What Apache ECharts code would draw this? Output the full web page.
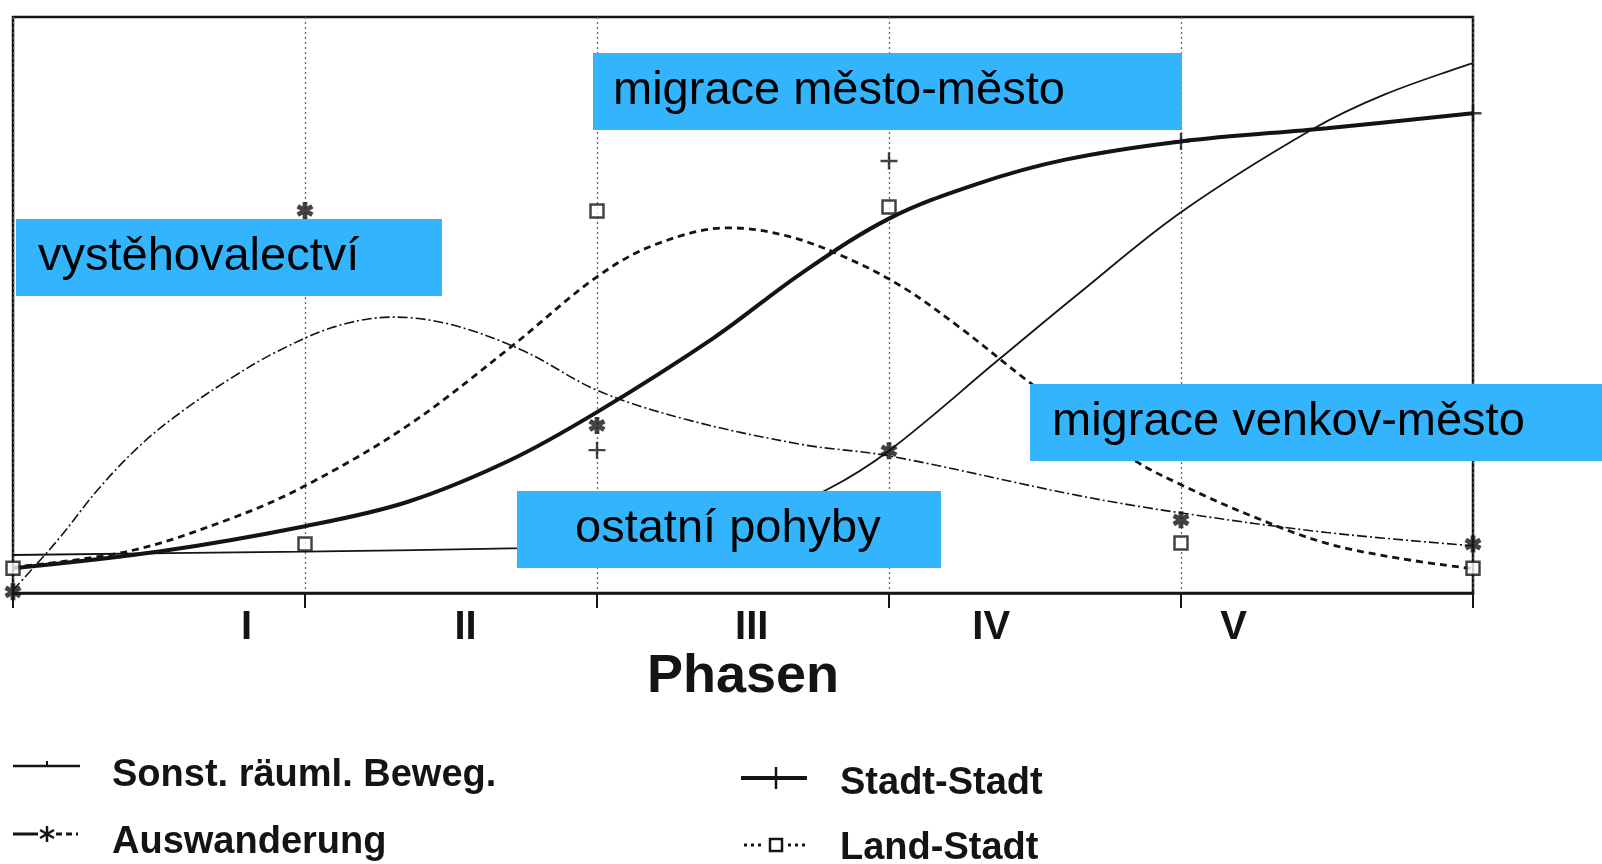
<!DOCTYPE html>
<html>
<head>
<meta charset="utf-8">
<title>Phasen</title>
<script src="https://cdn.jsdelivr.net/npm/echarts@6/dist/echarts.min.js"></script>
<style>
    html, body { margin: 0; padding: 0; background: #fff; }
    #chart { width: 1602px; height: 864px; }
</style>
</head>
<body>
<div id="chart"></div>
<script>
// phase axis: 0..5, one unit per phase
const phaseLabels = ['I', 'II', 'III', 'IV', 'V']
const phaseLabelPos = [0.8, 1.55, 2.53, 3.35, 4.18]

// curves, [phase, relative value]
const sonstValues = [[0, 6.6], [1, 7.2], [1.75, 7.8], [2.2, 8.6], [2.5, 11.5], [2.79, 18.0], [3, 24.7], [3.38, 40.7],
    [3.65, 52.0], [4, 66.1], [4.45, 80.5], [4.7, 86.6], [5, 92.0]]
const auswanderungValues = [[0, 0.5], [0.15, 9], [0.3, 18.5], [0.45, 26.3], [0.6, 32.3], [0.75, 37.4], [0.9, 41.8],
    [1.1, 46.2], [1.3, 47.9], [1.5, 46.6], [1.75, 42], [2, 35.2], [2.3, 30.2], [2.7, 25.8], [3, 23.8], [3.65, 16.9],
    [4, 13.9], [4.5, 10.5], [5, 8.2]]
const stadtStadtValues = [[0, 4.3], [0.5, 7.2], [1, 11.6], [1.35, 15.8], [1.7, 23], [2, 31.4], [2.4, 44.3], [2.7, 55.5],
    [3, 65], [3.3, 71], [3.6, 75.2], [4, 78.4], [4.5, 80.7], [5, 83.3]]
const landStadtValues = [[0, 4.5], [0.4, 7.3], [0.75, 13], [1, 18.6], [1.35, 29], [1.7, 42.5], [2, 54.9], [2.2, 60.5],
    [2.45, 63.4], [2.65, 62], [2.85, 58.3], [3.05, 53], [3.25, 45.8], [3.47, 37.0], [3.83, 23.4], [4, 18.8], [4.25, 13.2],
    [4.5, 8.6], [4.75, 6], [5, 4.2]]

// marker symbols at the phase boundaries
const auswanderungMarks = [[0, 0.2], [1, 66.4], [2, 29.1], [3, 24.7], [4, 12.7], [5, 8.5]]
const stadtStadtMarks = [[2, 24.8], [3, 75.0], [4, 78.4], [5, 83.3]]
const landStadtMarks = [[0, 4.3], [1, 8.5], [2, 66.3], [3, 67.0], [4, 8.7], [5, 4.3]]

const ink = '#141414'
const boxBlue = '#34b4fc'
// three bars, all wound the same way so the centre stays filled
const starPath = 'path://M-1.7,-6L1.7,-6L1.7,6L-1.7,6Z M4.346,4.472L-6.046,-1.528L-4.346,-4.472L6.046,1.528Z M-6.046,1.528L4.346,-4.472L6.046,-1.528L-4.346,4.472Z'
const plusPath = 'path://M-1,-7L1,-7L1,-1L7,-1L7,1L1,1L1,7L-1,7L-1,1L-7,1L-7,-1L-1,-1Z'

const boxFont = '47px "Liberation Sans", Arial, sans-serif'
const legendFont = 'bold 38px "Liberation Sans", Arial, sans-serif'

function box(x, y, w, h, text, tx) {
    return [
        { type: 'rect', z: 100, shape: { x: x, y: y, width: w, height: h }, style: { fill: boxBlue } },
        { type: 'text', z: 101, x: tx, y: y + h / 2, style: { text: text, font: boxFont, fill: '#000', verticalAlign: 'middle' } }
    ]
}

function legendText(x, y, text) {
    return { type: 'text', z: 50, x: x, y: y, style: { text: text, font: legendFont, fill: ink, verticalAlign: 'middle' } }
}

function seg(x1, y1, x2, y2, w, dash) {
    return { type: 'line', z: 50, shape: { x1: x1, y1: y1, x2: x2, y2: y2 }, style: { stroke: ink, lineWidth: w, lineDash: dash || null } }
}

function star(cx, cy, r) {
    const out = []
    for (let a = 0; a < 180; a += 60) {
        const rad = (a + 90) * Math.PI / 180
        out.push(seg(cx - r * Math.cos(rad), cy - r * Math.sin(rad), cx + r * Math.cos(rad), cy + r * Math.sin(rad), 2.5))
    }
    return out
}

const chart = echarts.init(document.getElementById('chart'))

chart.setOption({
    backgroundColor: '#ffffff',
    animation: false,
    grid: {
        left: 13,
        right: 129,
        top: 17,
        bottom: 271,
        show: true,
        borderColor: ink,
        borderWidth: 2.5,
        backgroundColor: 'transparent'
    },
    xAxis: [{
        type: 'value',
        min: 0,
        max: 5,
        interval: 1,
        axisLine: { show: true, lineStyle: { color: ink, width: 2.5 } },
        axisTick: { show: true, length: 15, lineStyle: { color: ink, width: 2 } },
        axisLabel: { show: false },
        splitLine: { show: true, lineStyle: { color: '#666', width: 1.3, type: [2, 3] } },
        name: 'Phasen',
        nameLocation: 'middle',
        nameGap: 57,
        nameTextStyle: { color: ink, fontSize: 54, fontWeight: 'bold', fontFamily: '"Liberation Sans", Arial, sans-serif' }
    }, {
        type: 'value',
        min: 0,
        max: 5,
        position: 'bottom',
        axisLine: { show: false },
        axisTick: { show: false },
        splitLine: { show: false },
        axisLabel: {
            show: true,
            customValues: phaseLabelPos,
            margin: 15,
            color: ink,
            fontSize: 40,
            fontWeight: 'bold',
            fontFamily: '"Liberation Sans", Arial, sans-serif',
            formatter: function (v) {
                let best = 0
                phaseLabelPos.forEach(function (p, i) {
                    if (Math.abs(p - v) < Math.abs(phaseLabelPos[best] - v)) best = i
                })
                return phaseLabels[best]
            }
        }
    }],
    yAxis: {
        type: 'value',
        min: 0,
        max: 100,
        show: false
    },
    series: [{
        name: 'Sonst. räuml. Beweg.',
        type: 'line',
        smooth: 0.35,
        showSymbol: false,
        data: sonstValues,
        lineStyle: { color: ink, width: 1.8 }
    }, {
        name: 'Auswanderung',
        type: 'line',
        smooth: 0.35,
        showSymbol: false,
        data: auswanderungValues,
        lineStyle: { color: ink, width: 1.6, type: [10, 3, 2, 3] }
    }, {
        name: 'Stadt-Stadt',
        type: 'line',
        smooth: 0.35,
        showSymbol: false,
        data: stadtStadtValues,
        lineStyle: { color: ink, width: 4 }
    }, {
        name: 'Land-Stadt',
        type: 'line',
        smooth: 0.35,
        showSymbol: false,
        data: landStadtValues,
        lineStyle: { color: ink, width: 2.8, type: [7, 5] }
    }, {
        type: 'scatter',
        data: auswanderungMarks,
        symbol: starPath,
        symbolSize: 17,
        itemStyle: { color: ink },
        z: 5
    }, {
        type: 'scatter',
        data: stadtStadtMarks,
        symbol: plusPath,
        symbolSize: 17,
        itemStyle: { color: ink },
        z: 5
    }, {
        type: 'scatter',
        data: landStadtMarks,
        symbol: 'rect',
        symbolSize: 13,
        itemStyle: { color: '#fff', borderColor: ink, borderWidth: 2.5 },
        z: 5
    }],
    graphic: [].concat(
        box(593, 53, 589, 77, 'migrace město-město', 613),
        box(16, 219, 426, 77, 'vystěhovalectví', 38),
        box(1030, 384, 572, 77, 'migrace venkov-město', 1052),
        box(517, 491, 424, 77, 'ostatní pohyby', 575),
        [
            // legend: Sonst. räuml. Beweg.
            seg(13, 766, 80, 766, 2.5),
            seg(47, 761, 47, 766, 2),
            legendText(112, 776, 'Sonst. räuml. Beweg.'),
            // legend: Auswanderung
            seg(13, 834, 38, 834, 3),
            seg(56, 834, 78, 834, 3, [6, 4])
        ],
        star(47, 834, 8),
        [
            legendText(112, 843, 'Auswanderung'),
            // legend: Stadt-Stadt
            seg(741, 778, 807, 778, 4),
            seg(776, 767, 776, 789, 2.5),
            legendText(840, 784, 'Stadt-Stadt'),
            // legend: Land-Stadt
            seg(744, 845, 764, 845, 3, [3, 4]),
            { type: 'rect', z: 50, shape: { x: 770, y: 839, width: 12, height: 12 }, style: { fill: '#fff', stroke: ink, lineWidth: 2.5 } },
            seg(788, 845, 808, 845, 3, [3, 4]),
            legendText(840, 849, 'Land-Stadt')
        ]
    )
})
</script>
</body>
</html>
